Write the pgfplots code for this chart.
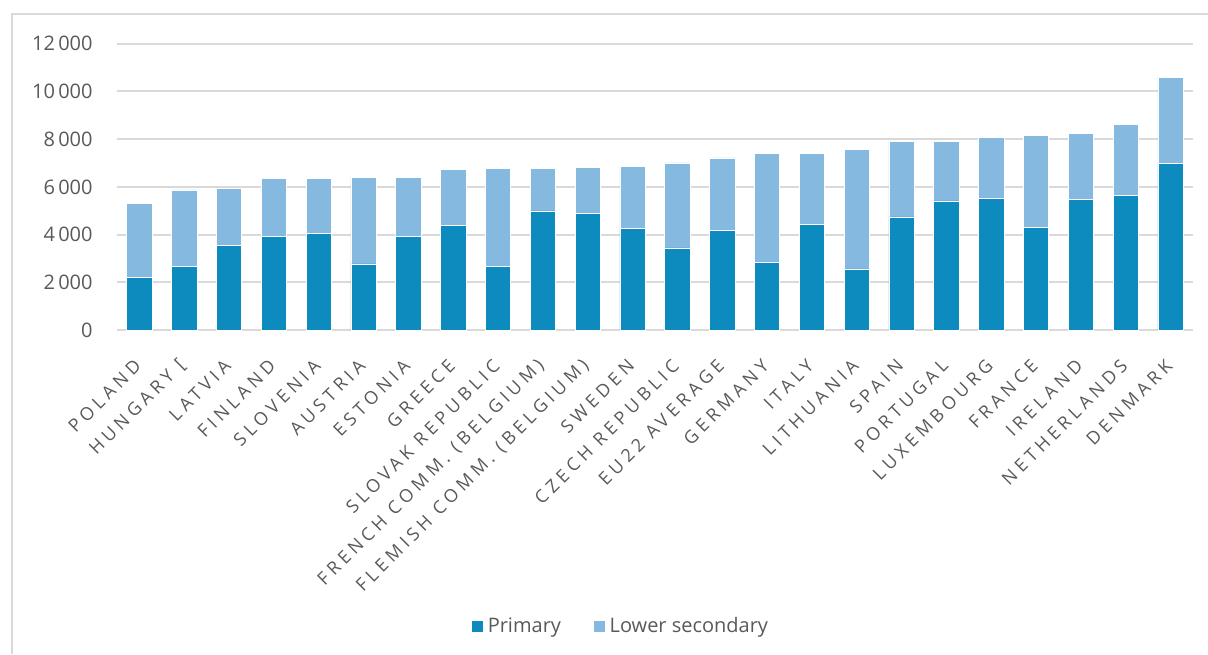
\documentclass[border=0pt]{standalone}
\usepackage{fontspec}
\setmainfont{Open Sans}
\newfontfamily\lblfont[LetterSpace=24]{Open Sans}
\usepackage{pgfplots}
\usepackage{pgfplotstable}
\pgfplotsset{compat=1.18}

\definecolor{primblue}{HTML}{0E8BBE}
\definecolor{lowblue}{HTML}{85B9E0}
\definecolor{gridgray}{HTML}{D9D9D9}
\definecolor{txtgray}{HTML}{595959}

% Spending per pupil: primary and lower secondary, stacked
\pgfplotstableread{
idx primary lower
0  2220 3090
1  2680 3190
2  3560 2380
3  3940 2430
4  4060 2310
5  2770 3630
6  3940 2470
7  4400 2330
8  2650 4130
9  4990 1800
10 4900 1930
11 4260 2610
12 3440 3560
13 4160 3050
14 2850 4540
15 4440 2960
16 2560 5010
17 4740 3150
18 5410 2510
19 5520 2540
20 4290 3850
21 5460 2780
22 5630 2990
23 6970 3620
}\spending

\begin{document}
\begin{tikzpicture}
% canvas: 1 px = 0.5pt
\path[use as bounding box] (0,0) rectangle (604pt,327pt);
\draw[gridgray, line width=1pt] (6pt,0) -- (6pt,320pt) -- (604pt,320pt);
\begin{axis}[
  at={(58.5pt,162pt)}, anchor=south west,
  scale only axis,
  width=538pt, height=143.15pt,
  ybar stacked,
  bar width=12.7pt,
  xmin=-0.5, xmax=23.5,
  ymin=0, ymax=12000,
  ytick={0,2000,...,12000},
  scaled y ticks=false,
  ymajorgrids,
  grid style={gridgray, line width=1pt},
  axis line style={draw=none},
  major tick length=0pt,
  xtick={0,...,23},
  xticklabels={POLAND, HUNGARY [, LATVIA, FINLAND, SLOVENIA, AUSTRIA, ESTONIA, GREECE, SLOVAK REPUBLIC, FRENCH COMM. (BELGIUM), FLEMISH COMM. (BELGIUM), SWEDEN, CZECH REPUBLIC, EU22 AVERAGE, GERMANY, ITALY, LITHUANIA, SPAIN, PORTUGAL, LUXEMBOURG, FRANCE, IRELAND, NETHERLANDS, DENMARK},
  x tick label style={rotate=45, anchor=east, inner sep=0pt, xshift=-12pt, yshift=-11pt,
    font=\lblfont\fontsize{9}{11}\selectfont, text=txtgray},
  y tick label style={anchor=east, inner sep=0pt, xshift=-12pt,
    font=\fontsize{10}{12}\selectfont, text=txtgray},
  /pgf/number format/.cd, 1000 sep={\,}, assume math mode=true,
  /pgfplots/.cd,
  legend columns=2,
  legend style={at={(0.469,-1.035)}, anchor=center, draw=none, fill=none,
    font=\fontsize{10}{12}\selectfont, text=txtgray,
    /tikz/every even column/.append style={column sep=14pt},
    inner sep=0pt},
  legend image code/.code={\fill[#1] (0pt,-3pt) rectangle (6pt,3pt);},
]
\addplot[fill=primblue, draw=white, line width=0.3pt] table[x=idx, y=primary] {\spending};
\addplot[fill=lowblue, draw=white, line width=0.3pt] table[x=idx, y=lower] {\spending};
\legend{Primary, Lower secondary}
\end{axis}
\end{tikzpicture}
\end{document}
